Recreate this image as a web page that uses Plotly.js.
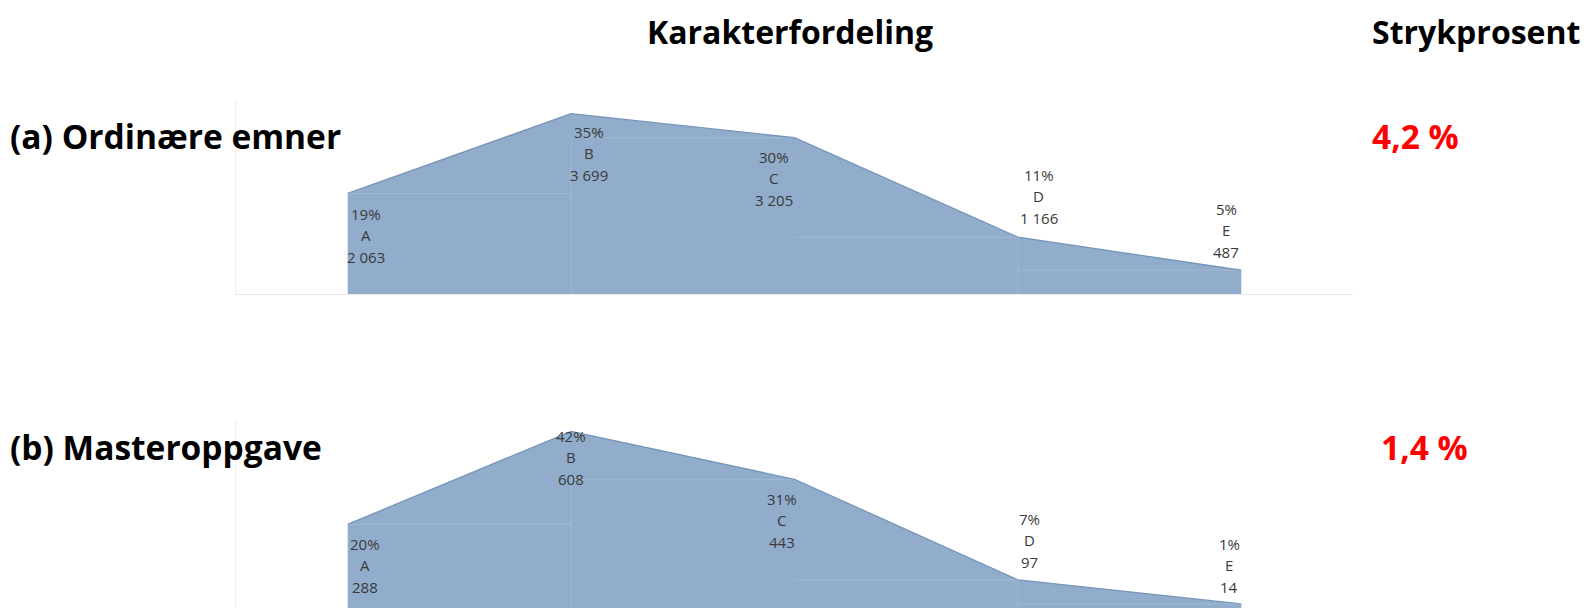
<!DOCTYPE html>
<html>
<head>
<meta charset="utf-8">
<script src="https://cdn.plot.ly/plotly-3.0.1.min.js"></script>
<style>
html,body{margin:0;padding:0;background:#fff;}
#chart{width:1587px;height:608px;}
</style>
</head>
<body>
<div id="chart"></div>
<script>
// ---------- DATA ----------
const grades = ["A", "B", "C", "D", "E"];
const ordinaryCounts = [2063, 3699, 3205, 1166, 487];
const ordinaryPct = [19, 35, 30, 11, 5];
const masterCounts = [288, 608, 443, 97, 14];
const masterPct = [20, 42, 31, 7, 1];
const failRateOrdinary = "4,2 %";
const failRateMaster = "1,4 %";
const mainTitle = "Karakterfordeling";
const failTitle = "Strykprosent";
const rowLabels = ["(a) Ordinære emner", "(b) Masteroppgave"];

// ---------- STYLE ----------
const fillCol = "rgb(145,173,203)";
const edgeCol = "rgb(118,148,185)";
const labelFont = {family: "Open Sans, DejaVu Sans, sans-serif", size: 15, color: "#3a3a3a"};
const headFont = {family: "Open Sans, sans-serif", size: 32, color: "#000"};
const rowFont = {family: "Open Sans, sans-serif", size: 33.5, color: "#000"};
const redFont = {family: "Open Sans, sans-serif", size: 33.5, color: "#ff0000"};
const lineGap = 21;
// per-point label offsets (px): dx, dy of first line (positive = downward)
const offsTop = [[18, 21], [18, 18], [-21, 19], [21, -62], [-15, -61]];
const offsBot = [[17, 20], [0, 5], [-13, 20], [12, -61], [-12, -60]];

function fmt(n) {
  return String(n).replace(/\B(?=(\d{3})+(?!\d))/g, " ");
}

const xs = grades.map((g, i) => i);

function areaTrace(vals, xa, ya) {
  return {
    type: "scatter", mode: "lines", x: xs, y: vals, xaxis: xa, yaxis: ya,
    fill: "tozeroy", fillcolor: fillCol,
    line: {color: edgeCol, width: 1.3}, hoverinfo: "skip", showlegend: false
  };
}
function innerLines(vals, xa, ya) {
  const x = [], y = [];
  for (let i = 0; i < vals.length - 1; i++) {
    const m = Math.min(vals[i], vals[i + 1]);
    x.push(i, i + 1, null); y.push(m, m, null);
  }
  return {
    type: "scatter", mode: "lines", x: x, y: y, xaxis: xa, yaxis: ya,
    line: {color: "rgba(255,255,255,0.16)", width: 1}, hoverinfo: "skip", showlegend: false
  };
}
function innerVerts(vals, xa, ya) {
  const x = [], y = [];
  [1, 3].forEach(i => {
    const h = Math.min(vals[i], vals[i + 1]);
    x.push(i, i, null); y.push(0, i === 3 ? vals[i] : h, null);
  });
  return {
    type: "scatter", mode: "lines", x: x, y: y, xaxis: xa, yaxis: ya,
    line: {color: "rgba(255,255,255,0.14)", width: 1}, hoverinfo: "skip", showlegend: false
  };
}

const data = [
  areaTrace(ordinaryCounts, "x", "y"),
  innerLines(ordinaryCounts, "x", "y"),
  innerVerts(ordinaryCounts, "x", "y"),
  areaTrace(masterCounts, "x2", "y2"),
  innerLines(masterCounts, "x2", "y2"),
  innerVerts(masterCounts, "x2", "y2")
];

const annotations = [];
function addLabels(counts, pcts, offs, xref, yref) {
  counts.forEach((c, i) => {
    const lines = [pcts[i] + "%", grades[i], fmt(c)];
    lines.forEach((t, k) => {
      annotations.push({
        x: i, y: c, xref: xref, yref: yref, text: t, showarrow: false,
        xanchor: "center", yanchor: "middle",
        xshift: offs[i][0], yshift: -(offs[i][1] + k * lineGap + (k === 2 ? 1 : 0)),
        font: labelFont
      });
    });
  });
}
addLabels(ordinaryCounts, ordinaryPct, offsTop, "x", "y");
addLabels(masterCounts, masterPct, offsBot, "x2", "y2");

annotations.push(
  {xref: "paper", yref: "paper", x: 790 / 1587, y: 1 - 31 / 608, text: "<b>" + mainTitle + "</b>",
   showarrow: false, xanchor: "center", yanchor: "middle", font: headFont},
  {xref: "paper", yref: "paper", x: 1582 / 1587, y: 1 - 31 / 608, text: "<b>" + failTitle + "</b>",
   showarrow: false, xanchor: "right", yanchor: "middle", font: headFont},
  {xref: "paper", yref: "paper", x: 8 / 1587, y: 1 - 136 / 608, text: "<b>" + rowLabels[0] + "</b>",
   showarrow: false, xanchor: "left", yanchor: "middle", font: rowFont},
  {xref: "paper", yref: "paper", x: 8 / 1587, y: 1 - 447 / 608, text: "<b>" + rowLabels[1] + "</b>",
   showarrow: false, xanchor: "left", yanchor: "middle", font: rowFont},
  {xref: "paper", yref: "paper", x: 1415 / 1587, y: 1 - 136 / 608, text: "<b>" + failRateOrdinary + "</b>",
   showarrow: false, xanchor: "center", yanchor: "middle", font: redFont},
  {xref: "paper", yref: "paper", x: 1424 / 1587, y: 1 - 447 / 608, text: "<b>" + failRateMaster + "</b>",
   showarrow: false, xanchor: "center", yanchor: "middle", font: redFont}
);

const xDom = [236 / 1587, 1353 / 1587];
const axX = {
  range: [-0.5, 4.5], showgrid: false, zeroline: false, showticklabels: false, ticks: "",
  showline: true, linecolor: "#e6e6e6", linewidth: 1, fixedrange: true
};
const axY = {
  showgrid: false, zeroline: false, showticklabels: false, ticks: "",
  showline: true, linecolor: "#eeeeee", linewidth: 1, fixedrange: true
};

const layout = {
  width: 1587, height: 608,
  margin: {l: 0, r: 0, t: 0, b: 0},
  paper_bgcolor: "#fff", plot_bgcolor: "#fff",
  showlegend: false,
  xaxis: Object.assign({}, axX, {domain: xDom, anchor: "y"}),
  yaxis: Object.assign({}, axY, {domain: [1 - 294 / 608, 1 - 99 / 608], range: [0, 4000], anchor: "x"}),
  xaxis2: Object.assign({}, axX, {domain: xDom, anchor: "y2"}),
  yaxis2: Object.assign({}, axY, {domain: [0, 1 - 420 / 608], range: [0, 647], anchor: "x2"}),
  annotations: annotations
};

Plotly.newPlot("chart", data, layout, {displayModeBar: false, staticPlot: true});
</script>
</body>
</html>
